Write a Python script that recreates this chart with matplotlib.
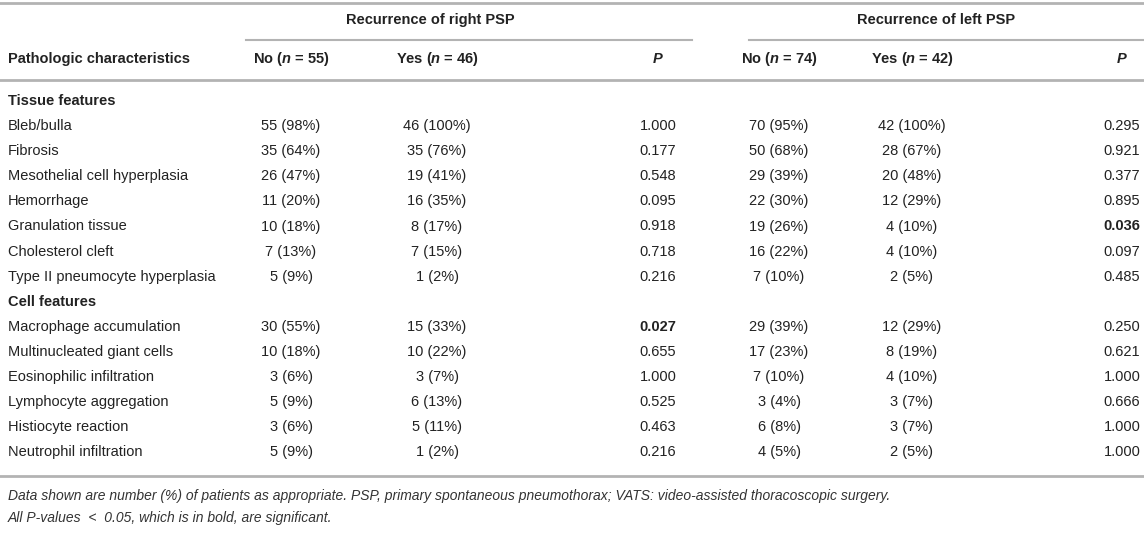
import matplotlib.pyplot as plt

plt.rcParams['font.family'] = ['Liberation Sans', 'DejaVu Sans']
plt.rcParams['mathtext.fontset'] = 'custom'
plt.rcParams['mathtext.bfit'] = 'Liberation Sans:italic:bold'
plt.rcParams['mathtext.it'] = 'Liberation Sans:italic'

# table content
tissue_rows = ["Bleb/bulla", "Fibrosis", "Mesothelial cell hyperplasia", "Hemorrhage",
               "Granulation tissue", "Cholesterol cleft", "Type II pneumocyte hyperplasia"]
tissue_right_no = ["55 (98%)", "35 (64%)", "26 (47%)", "11 (20%)", "10 (18%)", "7 (13%)", "5 (9%)"]
tissue_right_yes = ["46 (100%)", "35 (76%)", "19 (41%)", "16 (35%)", "8 (17%)", "7 (15%)", "1 (2%)"]
tissue_right_p = [1.000, 0.177, 0.548, 0.095, 0.918, 0.718, 0.216]
tissue_left_no = ["70 (95%)", "50 (68%)", "29 (39%)", "22 (30%)", "19 (26%)", "16 (22%)", "7 (10%)"]
tissue_left_yes = ["42 (100%)", "28 (67%)", "20 (48%)", "12 (29%)", "4 (10%)", "4 (10%)", "2 (5%)"]
tissue_left_p = [0.295, 0.921, 0.377, 0.895, 0.036, 0.097, 0.485]

cell_rows = ["Macrophage accumulation", "Multinucleated giant cells", "Eosinophilic infiltration",
             "Lymphocyte aggregation", "Histiocyte reaction", "Neutrophil infiltration"]
cell_right_no = ["30 (55%)", "10 (18%)", "3 (6%)", "5 (9%)", "3 (6%)", "5 (9%)"]
cell_right_yes = ["15 (33%)", "10 (22%)", "3 (7%)", "6 (13%)", "5 (11%)", "1 (2%)"]
cell_right_p = [0.027, 0.655, 1.000, 0.525, 0.463, 0.216]
cell_left_no = ["29 (39%)", "17 (23%)", "7 (10%)", "3 (4%)", "6 (8%)", "4 (5%)"]
cell_left_yes = ["12 (29%)", "8 (19%)", "4 (10%)", "3 (7%)", "3 (7%)", "2 (5%)"]
cell_left_p = [0.250, 0.621, 1.000, 0.666, 1.000, 1.000]

footnotes = ["Data shown are number (%) of patients as appropriate. PSP, primary spontaneous pneumothorax; VATS: video-assisted thoracoscopic surgery.",
             "All P-values  <  0.05, which is in bold, are significant."]

W, H = 1144, 542
fig = plt.figure(figsize=(W / 100, H / 100), dpi=100)
ax = fig.add_axes([0, 0, 1, 1])
ax.set_xlim(0, W)
ax.set_ylim(H, 0)
ax.axis("off")

txt = "#222222"
line_c = "#b3b3b3"
fs = 10.5

col_x = [291, 437, 658, 779, 912, 1122]

# rules
ax.plot([0, W], [3, 3], color=line_c, lw=2)
ax.plot([246, 692], [40, 40], color=line_c, lw=1.5)
ax.plot([749, W], [40, 40], color=line_c, lw=1.5)
ax.plot([0, W], [80, 80], color=line_c, lw=2)

# headers
ax.text(430, 20, "Recurrence of right PSP", ha="center", va="center", fontsize=fs, fontweight="bold", color=txt)
ax.text(936, 20, "Recurrence of left PSP", ha="center", va="center", fontsize=fs, fontweight="bold", color=txt)
ax.text(8, 59, "Pathologic characteristics", ha="left", va="center", fontsize=fs, fontweight="bold", color=txt)
heads = [r"No ($\mathbfit{n}$ = 55)", r"Yes ($\mathbfit{n}$ = 46)", r"$\mathbfit{P}$",
         r"No ($\mathbfit{n}$ = 74)", r"Yes ($\mathbfit{n}$ = 42)", r"$\mathbfit{P}$"]
for x, h in zip(col_x, heads):
    ax.text(x, 59, h, ha="center", va="center", fontsize=fs, fontweight="bold", color=txt)

pitch = 25.1


def draw_section(y, title, rows, rn, ry, rp, ln, ly, lp):
    ax.text(8, y, title, ha="left", va="center", fontsize=fs, fontweight="bold", color=txt)
    for i, name in enumerate(rows):
        yy = y + pitch * (i + 1)
        ax.text(8, yy, name, ha="left", va="center", fontsize=fs, color=txt)
        vals = [rn[i], ry[i], rp[i], ln[i], ly[i], lp[i]]
        for x, v in zip(col_x, vals):
            if isinstance(v, float):
                ax.text(x, yy, f"{v:.3f}", ha="center", va="center", fontsize=fs, color=txt,
                        fontweight="bold" if v < 0.05 else "normal")
            else:
                ax.text(x, yy, v, ha="center", va="center", fontsize=fs, color=txt)
    return y + pitch * (len(rows) + 1)


y = draw_section(101, "Tissue features", tissue_rows, tissue_right_no, tissue_right_yes, tissue_right_p,
                 tissue_left_no, tissue_left_yes, tissue_left_p)
y = draw_section(y, "Cell features", cell_rows, cell_right_no, cell_right_yes, cell_right_p,
                 cell_left_no, cell_left_yes, cell_left_p)

ax.plot([0, W], [476, 476], color=line_c, lw=2)
ax.text(8, 496, footnotes[0], ha="left", va="center", fontsize=10, style="italic", color="#333333")
ax.text(8, 518, footnotes[1], ha="left", va="center", fontsize=10, style="italic", color="#333333")

fig.savefig("out.png", dpi=100)
